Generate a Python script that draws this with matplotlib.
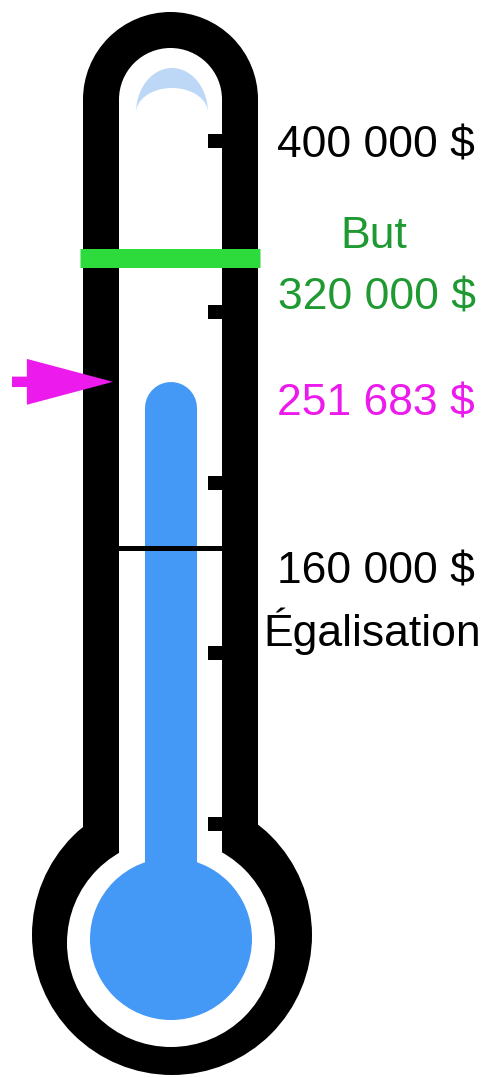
import numpy as np
import matplotlib
matplotlib.use("Agg")
import matplotlib.pyplot as plt
from matplotlib.patches import Rectangle, Circle, Polygon

# data
top_amount = 400000
goal_amount = 320000
raised_amount = 251683
match_amount = 160000
goal_word = "But"
match_word = "Égalisation"

W, H = 488, 1078
BLACK = "#000000"
BLUE = "#4499f6"
LIGHT = "#bcd8f6"
GREEN_BAR = "#2edb3c"
GREEN_TXT = "#1f9a32"
MAGENTA = "#ec1aec"
FONT = ["Liberation Sans", "DejaVu Sans"]

# pixel rows where the goal line and the match line sit
GOAL_PX = 258
MATCH_PX = 548
k = (MATCH_PX - GOAL_PX) / (goal_amount - match_amount)  # px per dollar
v_top = goal_amount + GOAL_PX / k
v_bottom = goal_amount - (H - GOAL_PX) / k

def fmt(v):
    return "{:,.0f} $".format(v).replace(",", " ")

fig = plt.figure(figsize=(W / 100, H / 100), dpi=100)
fig.patch.set_facecolor("white")

# body of the thermometer, pixel coordinates
ax = fig.add_axes([0, 0, 1, 1])
ax.set_xlim(0, W)
ax.set_ylim(H, 0)
ax.axis("off")

cx = 170.5
# black outline
ax.add_patch(Rectangle((83, 99.5), 175, 800, color=BLACK, lw=0))
ax.add_patch(Circle((cx, 99.5), 87.5, color=BLACK, lw=0))
ax.add_patch(Circle((172, 935), 140, color=BLACK, lw=0))
# white inside
ax.add_patch(Rectangle((119, 99.5), 103, 800, color="white", lw=0))
ax.add_patch(Circle((cx, 99.5), 51.5, color="white", lw=0))
ax.add_patch(Circle((171, 943), 104, color="white", lw=0))
# blue bulb
ax.add_patch(Circle((171, 939), 81, color=BLUE, lw=0))

# glass highlight at the top
t = np.linspace(0, np.pi, 60)
outer = np.column_stack([172 + 36 * np.cos(t), 113 - 45 * np.sin(t)])
inner = np.column_stack([172 + 36 * np.cos(t[::-1]), 113 - 25 * np.sin(t[::-1])])
ax.add_patch(Polygon(np.vstack([outer, inner]), closed=True, color=LIGHT, lw=0))

# little scale marks on the right wall
for ty in np.linspace(141, 824, 5):
    ax.add_patch(Rectangle((208, ty - 7), 16, 14, color=BLACK, lw=0))

# value axes on top, y in dollars
ax2 = fig.add_axes([0, 0, 1, 1])
ax2.set_xlim(0, W)
ax2.set_ylim(v_bottom, v_top)
ax2.axis("off")

# mercury column, round cap ends at the raised amount
r_px = 26
stem_bottom = v_top - 935 / k
ax2.plot([171, 171], [stem_bottom, raised_amount - r_px / k], color=BLUE,
         lw=2 * r_px * 0.72, solid_capstyle="round")

# goal line and match line
ax2.plot([80, 260], [goal_amount, goal_amount], color=GREEN_BAR, lw=19 * 0.72,
         solid_capstyle="butt")
ax2.plot([118, 223], [match_amount, match_amount], color=BLACK, lw=5 * 0.72,
         solid_capstyle="butt")

# pointer arrow
ax2.annotate("", xy=(113, raised_amount), xytext=(12, raised_amount),
             arrowprops=dict(arrowstyle="simple,head_length=6.2,head_width=3.3,tail_width=0.75",
                             mutation_scale=10, color=MAGENTA, lw=0,
                             shrinkA=0, shrinkB=0))

# labels
tx = 376
fs = 32
ax.text(tx, 157, fmt(top_amount), ha="center", va="baseline", fontsize=fs,
        color=BLACK, family=FONT)
ax.text(tx - 2, 248, goal_word, ha="center", va="baseline", fontsize=fs,
        color=GREEN_TXT, family=FONT)
ax.text(tx + 1, 310, fmt(goal_amount), ha="center", va="baseline", fontsize=fs,
        color=GREEN_TXT, family=FONT)
ax.text(tx, 416, fmt(raised_amount), ha="center", va="baseline", fontsize=fs,
        color=MAGENTA, family=FONT)
ax.text(tx, 584, fmt(match_amount), ha="center", va="baseline", fontsize=fs,
        color=BLACK, family=FONT)
ax.text(tx - 4, 646, match_word, ha="center", va="baseline", fontsize=fs,
        color=BLACK, family=FONT)

fig.savefig("out.png", dpi=100)
